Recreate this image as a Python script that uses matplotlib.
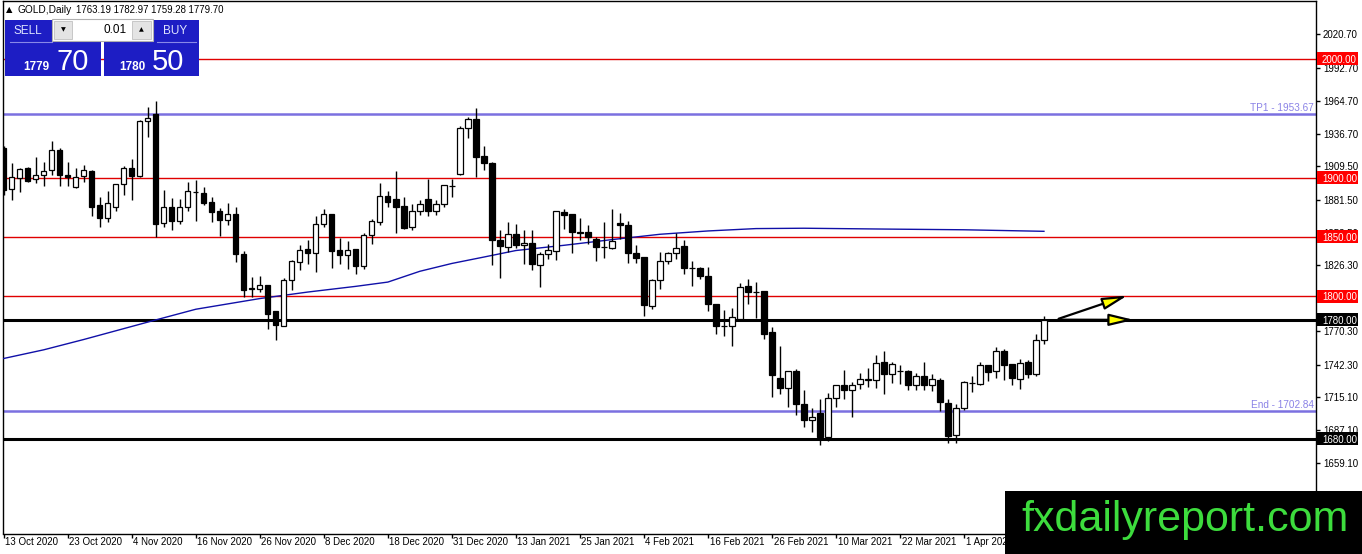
import matplotlib
matplotlib.use('Agg')
import matplotlib.pyplot as plt
import matplotlib.transforms as mtransforms
from matplotlib.patches import Rectangle, FancyArrowPatch

plt.rcParams['font.family'] = ['Liberation Sans', 'DejaVu Sans']

# daily candles, 13 Oct 2020 .. 16 Apr 2021
opens = [1924.6, 1890.0, 1900.0, 1907.7, 1898.4, 1902.6, 1906.0, 1923.1, 1902.6, 1892.2,
         1901.2, 1905.4, 1876.7, 1866.0, 1875.3, 1894.2, 1908.5, 1901.5, 1947.9, 1953.5,
         1862.1, 1875.3, 1863.5, 1875.3, 1888.0, 1887.4, 1879.0, 1871.7, 1864.6, 1869.1,
         1835.9, 1806.5, 1806.3, 1809.1, 1787.4, 1774.8, 1813.9, 1828.8, 1839.5, 1836.7,
         1861.2, 1869.1, 1838.7, 1835.0, 1839.5, 1825.4, 1851.9, 1862.6, 1884.3, 1881.8,
         1875.8, 1858.4, 1871.7, 1881.8, 1871.9, 1877.5, 1892.7, 1902.9, 1941.4, 1949.0,
         1918.1, 1912.7, 1847.1, 1841.5, 1852.8, 1843.5, 1845.2, 1826.0, 1835.9, 1838.1,
         1870.8, 1869.1, 1854.2, 1854.2, 1848.5, 1841.8, 1840.9, 1862.1, 1859.8, 1836.7,
         1832.8, 1791.7, 1813.9, 1829.4, 1836.7, 1842.1, 1824.0, 1824.0, 1817.3, 1793.1,
         1775.0, 1774.5, 1781.0, 1808.3, 1803.5, 1804.1, 1769.7, 1731.1, 1722.7, 1736.5,
         1709.2, 1695.7, 1701.6, 1681.0, 1714.2, 1724.7, 1721.0, 1726.1, 1729.7, 1729.4,
         1744.4, 1734.5, 1736.8, 1737.3, 1725.2, 1733.1, 1725.2, 1729.7, 1710.0, 1683.3,
         1705.8, 1726.6, 1726.1, 1741.6, 1736.5, 1754.2, 1742.4, 1730.3, 1744.4, 1734.5,
         1763.19]
highs = [1927.0, 1912.4, 1907.7, 1909.0, 1917.5, 1913.3, 1930.7, 1924.6, 1913.3, 1907.7,
         1910.5, 1906.8, 1883.7, 1888.8, 1894.4, 1909.6, 1915.5, 1948.5, 1959.7, 1964.5,
         1889.4, 1883.0, 1882.2, 1896.4, 1897.8, 1892.2, 1883.7, 1874.0, 1878.2, 1875.3,
         1837.8, 1816.2, 1816.7, 1809.5, 1787.6, 1815.6, 1830.8, 1842.9, 1847.1, 1867.4,
         1873.9, 1869.4, 1849.4, 1846.5, 1839.8, 1853.3, 1865.4, 1895.5, 1888.8, 1905.7,
         1883.7, 1877.5, 1880.9, 1899.2, 1880.9, 1893.8, 1899.2, 1943.4, 1951.3, 1958.3,
         1926.5, 1913.0, 1855.6, 1862.6, 1861.2, 1856.1, 1855.6, 1837.3, 1844.3, 1871.9,
         1873.9, 1869.4, 1866.3, 1860.4, 1849.9, 1862.6, 1873.9, 1870.5, 1863.2, 1843.5,
         1833.1, 1814.5, 1837.3, 1836.9, 1853.6, 1847.1, 1829.4, 1824.6, 1824.6, 1793.4,
         1788.0, 1790.3, 1811.1, 1814.8, 1811.9, 1804.4, 1773.9, 1758.4, 1737.3, 1738.7,
         1721.3, 1705.8, 1712.9, 1718.5, 1725.5, 1737.9, 1727.5, 1735.0, 1739.6, 1750.0,
         1754.2, 1744.9, 1741.6, 1737.6, 1735.3, 1744.4, 1734.5, 1731.1, 1713.4, 1709.2,
         1728.9, 1732.3, 1744.4, 1742.1, 1757.0, 1755.6, 1743.0, 1747.2, 1746.6, 1767.8,
         1782.97]
lows = [1885.0, 1881.5, 1888.0, 1896.0, 1895.6, 1892.7, 1902.0, 1892.7, 1892.7, 1891.6,
        1896.4, 1867.4, 1858.4, 1862.6, 1871.9, 1885.1, 1881.5, 1900.6, 1934.4, 1849.9,
        1858.4, 1855.6, 1861.2, 1871.9, 1863.5, 1876.7, 1862.6, 1850.8, 1859.8, 1828.9,
        1799.3, 1799.3, 1803.5, 1772.5, 1762.7, 1774.5, 1805.4, 1822.3, 1827.4, 1820.4,
        1858.4, 1824.0, 1827.4, 1823.2, 1818.4, 1823.2, 1843.7, 1860.4, 1875.3, 1853.3,
        1857.0, 1856.2, 1868.2, 1867.6, 1868.2, 1875.3, 1883.7, 1902.6, 1933.0, 1900.1,
        1906.3, 1826.0, 1815.6, 1837.3, 1840.9, 1827.4, 1821.8, 1807.7, 1831.6, 1830.8,
        1857.0, 1836.7, 1847.1, 1844.3, 1829.7, 1832.5, 1840.1, 1848.0, 1828.0, 1828.0,
        1783.2, 1789.4, 1806.3, 1827.4, 1831.6, 1819.0, 1808.6, 1814.8, 1787.4, 1767.7,
        1766.3, 1758.4, 1780.8, 1793.6, 1781.5, 1764.1, 1715.0, 1717.6, 1706.4, 1699.9,
        1689.5, 1685.2, 1674.8, 1677.6, 1706.4, 1712.9, 1697.9, 1721.9, 1723.8, 1722.7,
        1717.6, 1726.6, 1726.1, 1721.3, 1721.3, 1721.0, 1720.4, 1703.5, 1676.2, 1676.2,
        1704.4, 1719.0, 1725.5, 1728.9, 1730.8, 1729.4, 1725.2, 1721.9, 1730.8, 1732.3,
        1759.28]
closes = [1889.4, 1900.1, 1907.1, 1897.3, 1902.6, 1905.4, 1922.9, 1902.6, 1900.1, 1900.6,
          1906.8, 1875.3, 1866.0, 1878.2, 1894.4, 1908.5, 1901.5, 1947.9, 1949.9, 1861.2,
          1875.3, 1863.5, 1875.3, 1888.5, 1887.5, 1878.2, 1870.6, 1864.6, 1869.7, 1835.9,
          1805.5, 1806.0, 1809.1, 1785.2, 1775.3, 1813.9, 1829.4, 1839.2, 1836.7, 1861.2,
          1869.1, 1838.1, 1835.0, 1838.7, 1825.4, 1851.9, 1863.2, 1884.3, 1879.5, 1875.3,
          1857.8, 1871.7, 1878.1, 1871.9, 1877.5, 1893.6, 1893.2, 1941.4, 1949.0, 1917.0,
          1912.4, 1847.7, 1842.1, 1852.8, 1843.5, 1845.2, 1826.9, 1835.9, 1839.2, 1871.6,
          1868.8, 1854.2, 1853.3, 1849.9, 1841.5, 1841.2, 1846.3, 1859.8, 1836.4, 1832.2,
          1792.8, 1813.3, 1829.4, 1836.7, 1840.9, 1824.0, 1823.5, 1816.7, 1793.6, 1774.8,
          1774.5, 1782.4, 1807.7, 1803.5, 1803.3, 1768.3, 1733.7, 1722.7, 1736.5, 1709.2,
          1695.7, 1698.5, 1681.0, 1714.2, 1724.7, 1721.0, 1725.2, 1730.3, 1729.9, 1743.8,
          1734.5, 1743.0, 1736.5, 1725.2, 1733.1, 1725.2, 1730.3, 1710.6, 1682.4, 1705.8,
          1728.0, 1727.0, 1741.6, 1735.9, 1754.2, 1742.1, 1731.1, 1743.8, 1734.5, 1762.7,
          1779.70]

# moving average (blue line), read at some bars
ma_idx = [0, 5, 10, 19, 24, 32, 38, 44, 48, 52, 56, 60, 64, 70, 76, 82, 88, 94, 100, 110, 120, 130]
ma_val = [1747.5, 1754.8, 1763.5, 1780.0, 1789.0, 1798.0, 1803.5, 1808.3, 1811.9, 1821.0, 1827.6,
          1833.0, 1838.5, 1842.9, 1847.7, 1852.2, 1855.0, 1857.0, 1857.3, 1856.6, 1856.0, 1854.7]

date_idx = [0, 8, 16, 24, 32, 40, 48, 56, 64, 72, 80, 88, 96, 104, 112, 120]
date_labels = ['13 Oct 2020', '23 Oct 2020', '4 Nov 2020', '16 Nov 2020', '26 Nov 2020',
               '8 Dec 2020', '18 Dec 2020', '31 Dec 2020', '13 Jan 2021', '25 Jan 2021',
               '4 Feb 2021', '16 Feb 2021', '26 Feb 2021', '10 Mar 2021', '22 Mar 2021',
               '1 Apr 2021']

price_ticks = [2020.70, 1992.70, 1964.70, 1936.70, 1909.50, 1881.50, 1853.50,
               1826.30, 1798.30, 1770.30, 1742.30, 1715.10, 1687.10, 1659.10]

red_levels = [2000.0, 1900.0, 1850.0, 1800.0]
black_levels = [1780.0, 1680.0]
blue_levels = [1953.67, 1702.84]
blue_names = ['TP1', 'End']

# arrows drawn after the last bar
arrow_start = (131.5, 1780.2)
arrow_ends = [(140.75, 1801.3), (141.6, 1780.0)]

W, H = 1362, 554
fig = plt.figure(figsize=(W / 100, H / 100), dpi=100)
fig.patch.set_facecolor('white')

def fx(px):
    return px / W

def fy(py):
    return 1 - py / H

ax = fig.add_axes([fx(3), fy(533.5), fx(1316) - fx(3), fy(1) - fy(533.5)])
ax.set_xlim(-0.1, 164.0)
ax.set_ylim(1599.9, 2048.9)
for s in ax.spines.values():
    s.set_color('black')
    s.set_linewidth(1)

blend = mtransforms.blended_transform_factory(ax.transAxes, ax.transData)
blend_x = mtransforms.blended_transform_factory(ax.transData, ax.transAxes)

# horizontal levels
for lv in red_levels:
    ax.axhline(lv, color='#e00000', lw=1, zorder=2)
for lv in black_levels:
    ax.axhline(lv, color='black', lw=2.2, zorder=2)
for lv, nm in zip(blue_levels, blue_names):
    ax.axhline(lv, color='#7b70e0', lw=1.8, zorder=2)
    ax.text(0.9985, lv + 1.2, f'{nm} - {lv:.2f}', transform=blend, ha='right', va='bottom',
            color='#8a82e6', fontsize=7.2)

# moving average
ax.plot(ma_idx, ma_val, color='#1010a8', lw=1, zorder=3)

# candles
idx = list(range(len(opens)))
ax.vlines(idx, lows, highs, color='black', lw=1, zorder=4)
bottoms = [min(o, c) for o, c in zip(opens, closes)]
heights = [max(abs(c - o), 0.5) for o, c in zip(opens, closes)]
colors = ['white' if c >= o else 'black' for o, c in zip(opens, closes)]
ax.bar(idx, heights, bottom=bottoms, width=0.66, color=colors, edgecolor='black',
       linewidth=0.9, zorder=5)

# arrows
for end in arrow_ends:
    ar = FancyArrowPatch(arrow_start, end, arrowstyle='-|>,head_length=1.5,head_width=0.36',
                         mutation_scale=10, lw=1.6, edgecolor='black', facecolor='#ffff00',
                         zorder=6)
    ax.add_patch(ar)

# axes ticks
ax.yaxis.tick_right()
ax.set_yticks(price_ticks)
ax.set_yticklabels([f'{v:.2f}' for v in price_ticks], fontsize=7)
ax.tick_params(axis='y', direction='out', length=3, width=1, pad=2, colors='black')
ax.set_xticks(date_idx)
ax.set_xticklabels([])
ax.tick_params(axis='x', direction='out', length=3, width=1)
for i, lab in zip(date_idx, date_labels):
    ax.text(i + 0.2, -0.016, lab, transform=blend_x, ha='left', va='center', fontsize=7,
            clip_on=False)

# price label boxes on the axis
box_h = 13 * (2048.9 - 1599.9) / 532.5
for lv, fc in [(v, '#ff0000') for v in red_levels] + [(v, 'black') for v in black_levels]:
    ax.add_patch(Rectangle((1.0008, lv - box_h / 2), 0.031, box_h, transform=blend,
                           facecolor=fc, edgecolor='none', clip_on=False, zorder=9))
    ax.text(1.0046, lv, f'{lv:.2f}', transform=blend, ha='left', va='center_baseline',
            color='white', fontsize=7, clip_on=False, zorder=10)

# overlay in pixel coords: trade panel, header, watermark
ov = fig.add_axes([0, 0, 1, 1], zorder=20)
ov.set_xlim(0, W)
ov.set_ylim(H, 0)
ov.axis('off')
ov.patch.set_alpha(0)

ov.text(6, 10, '\u25b2', fontsize=6, va='center', family=['DejaVu Sans'])
ov.text(18, 10, 'GOLD,Daily', fontsize=7.3, va='center')
ov.text(76, 10, f'{opens[-1]:.2f} {highs[-1]:.2f} {lows[-1]:.2f} {closes[-1]:.2f}',
        fontsize=6.9, va='center')

blue = '#1d1dc4'
ov.add_patch(Rectangle((5, 20), 96, 56, facecolor=blue, edgecolor='none'))
ov.add_patch(Rectangle((104, 20), 95, 56, facecolor=blue, edgecolor='none'))
ov.plot([10, 52], [41.5, 41.5], color='#8888e8', lw=0.8)
ov.plot([157, 196], [41.5, 41.5], color='#8888e8', lw=0.8)
ov.add_patch(Rectangle((52, 19), 101, 22, facecolor='white', edgecolor='#b0b0b0', lw=0.8))
ov.add_patch(Rectangle((54, 21), 18, 18, facecolor='#e4e4e4', edgecolor='#c0c0c0', lw=0.6))
ov.add_patch(Rectangle((132, 21), 19, 18, facecolor='#e4e4e4', edgecolor='#c0c0c0', lw=0.6))
ov.text(63, 30, '\u25bc', fontsize=4.5, ha='center', va='center', family=['DejaVu Sans'])
ov.text(141.5, 30, '\u25b2', fontsize=4.5, ha='center', va='center', family=['DejaVu Sans'])
ov.text(127, 30, '0.01', fontsize=8.5, ha='right', va='center')
ov.text(28, 30.5, 'SELL', fontsize=8.5, ha='center', va='center', color='#dfe4ff')
ov.text(175, 30.5, 'BUY', fontsize=8.5, ha='center', va='center', color='#dfe4ff')
ov.text(23, 70, '1779', fontsize=8.5, fontweight='bold', ha='left', va='baseline', color='white')
ov.text(56, 70.5, '70', fontsize=21, ha='left', va='baseline', color='white')
ov.text(119, 70, '1780', fontsize=8.5, fontweight='bold', ha='left', va='baseline', color='white')
ov.text(152, 70.5, '50', fontsize=21, ha='left', va='baseline', color='white')

ov.add_patch(Rectangle((1005, 491), 357, 63, facecolor='black', edgecolor='none'))
ov.text(1021, 531.5, 'fxdailyreport.com', fontsize=31, color='#3ddc3d', ha='left',
        va='baseline')

fig.savefig('out.png', dpi=100, facecolor='white')
